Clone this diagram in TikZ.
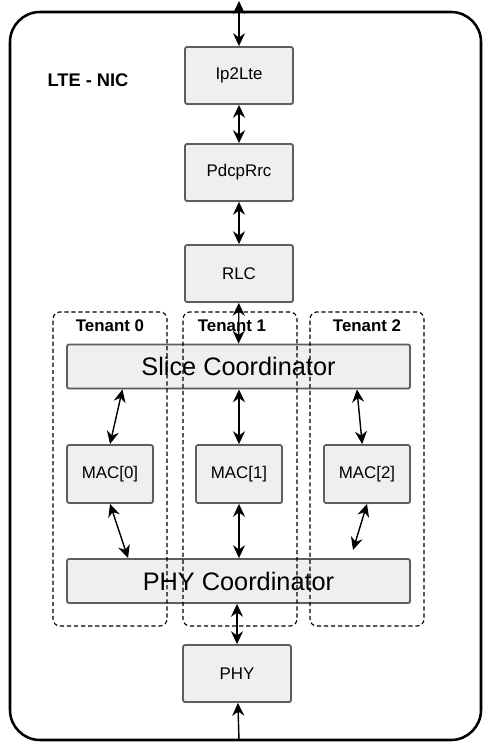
\documentclass[tikz,border=0pt]{standalone}
\usepackage{fontspec}
\setmainfont{Liberation Sans}
\usetikzlibrary{arrows.meta,shadows}
\definecolor{BoxEdge}{HTML}{5E5E5E}
\definecolor{BoxFill}{HTML}{EFEFEF}

\begin{document}
\begin{tikzpicture}[x=0.025cm,y=-0.025cm,
      every node/.style={align=center,inner sep=0pt},
      block/.style={draw=BoxEdge,line width=1.3pt,rounded corners=1.5pt,
        fill=BoxFill,font=\fontsize{12}{14}\selectfont,
        drop shadow={shadow xshift=0.8pt,shadow yshift=-0.8pt,opacity=0.2,fill=gray},
        minimum width=2.7cm,minimum height=1.425cm},
      mac/.style={block,minimum width=2.15cm,minimum height=1.45cm},
      coord/.style={block,font=\fontsize{18}{20}\selectfont,
        minimum width=8.575cm,minimum height=1.1cm},
      tenant/.style={draw,dash pattern=on 3pt off 2pt,line width=0.8pt,
        rounded corners=5pt,minimum width=2.85cm,minimum height=7.85cm},
      tlabel/.style={font=\bfseries\fontsize{12}{14}\selectfont},
      arrow/.style={{Stealth[length=3.2mm,width=3mm]}-{Stealth[length=3.2mm,width=3mm]},line width=1pt},
      uparrow/.style={-{Stealth[length=3.2mm,width=3mm]},line width=1pt}]
      \useasboundingbox (0,0) rectangle (490,747);
      \draw[line width=1.8pt,rounded corners=0.75cm] (10,12) rectangle (481,740);
      \node[font=\bfseries\fontsize{13}{15}\selectfont] (nic) at (88,80) {LTE - NIC};
      \coordinate (netin) at (239,1);
      \coordinate (phyin) at (239,740);
      \node[block] (ip2lte) at (239,75.5) {Ip2Lte};
      \node[block] (pdcp) at (239,172.5) {PdcpRrc};
      \node[block] (rlc) at (239,273.5) {RLC};
      \node[coord] (slice) at (238.5,366.5) {Slice Coordinator};
      \node[mac] (mac0) at (110,474) {MAC[0]};
      \node[mac] (mac1) at (239,474) {MAC[1]};
      \node[mac] (mac2) at (367,474) {MAC[2]};
      \node[coord] (phyco) at (238.5,581) {PHY Coordinator};
      \node[block] (phy) at (237,673.5) {PHY};
      \coordinate (mac2end) at (353,550);
      \node[tenant] (ten0) at (110,469) {};
      \node[tenant] (ten1) at (240,469) {};
      \node[tenant] (ten2) at (367,469) {};
      \node[tlabel] (lab0) at (110,326) {Tenant 0};
      \node[tlabel] (lab1) at (232,326) {Tenant 1};
      \node[tlabel] (lab2) at (367,326) {Tenant 2};
      \draw[arrow] (netin)--(ip2lte);
      \draw[arrow] (ip2lte)--(pdcp);
      \draw[arrow] (pdcp)--(rlc);
      \draw[arrow] (rlc)--(slice);
      \draw[arrow] ([xshift=-2.9cm]slice.south)--(mac0.north);
      \draw[arrow] (slice.south -| mac1)--(mac1);
      \draw[arrow] ([xshift=2.96cm]slice.south)--([xshift=-0.12cm]mac2.north);
      \draw[arrow] (mac0.south)--([xshift=-2.76cm]phyco.north);
      \draw[arrow] (mac1)--(phyco.north -| mac1);
      \draw[arrow] (mac2.south)--(mac2end);
      \draw[arrow] (phyco.south -| phy)--(phy);
      \draw[uparrow] (phyin)--(phy);
    \end{tikzpicture}
\end{document}
